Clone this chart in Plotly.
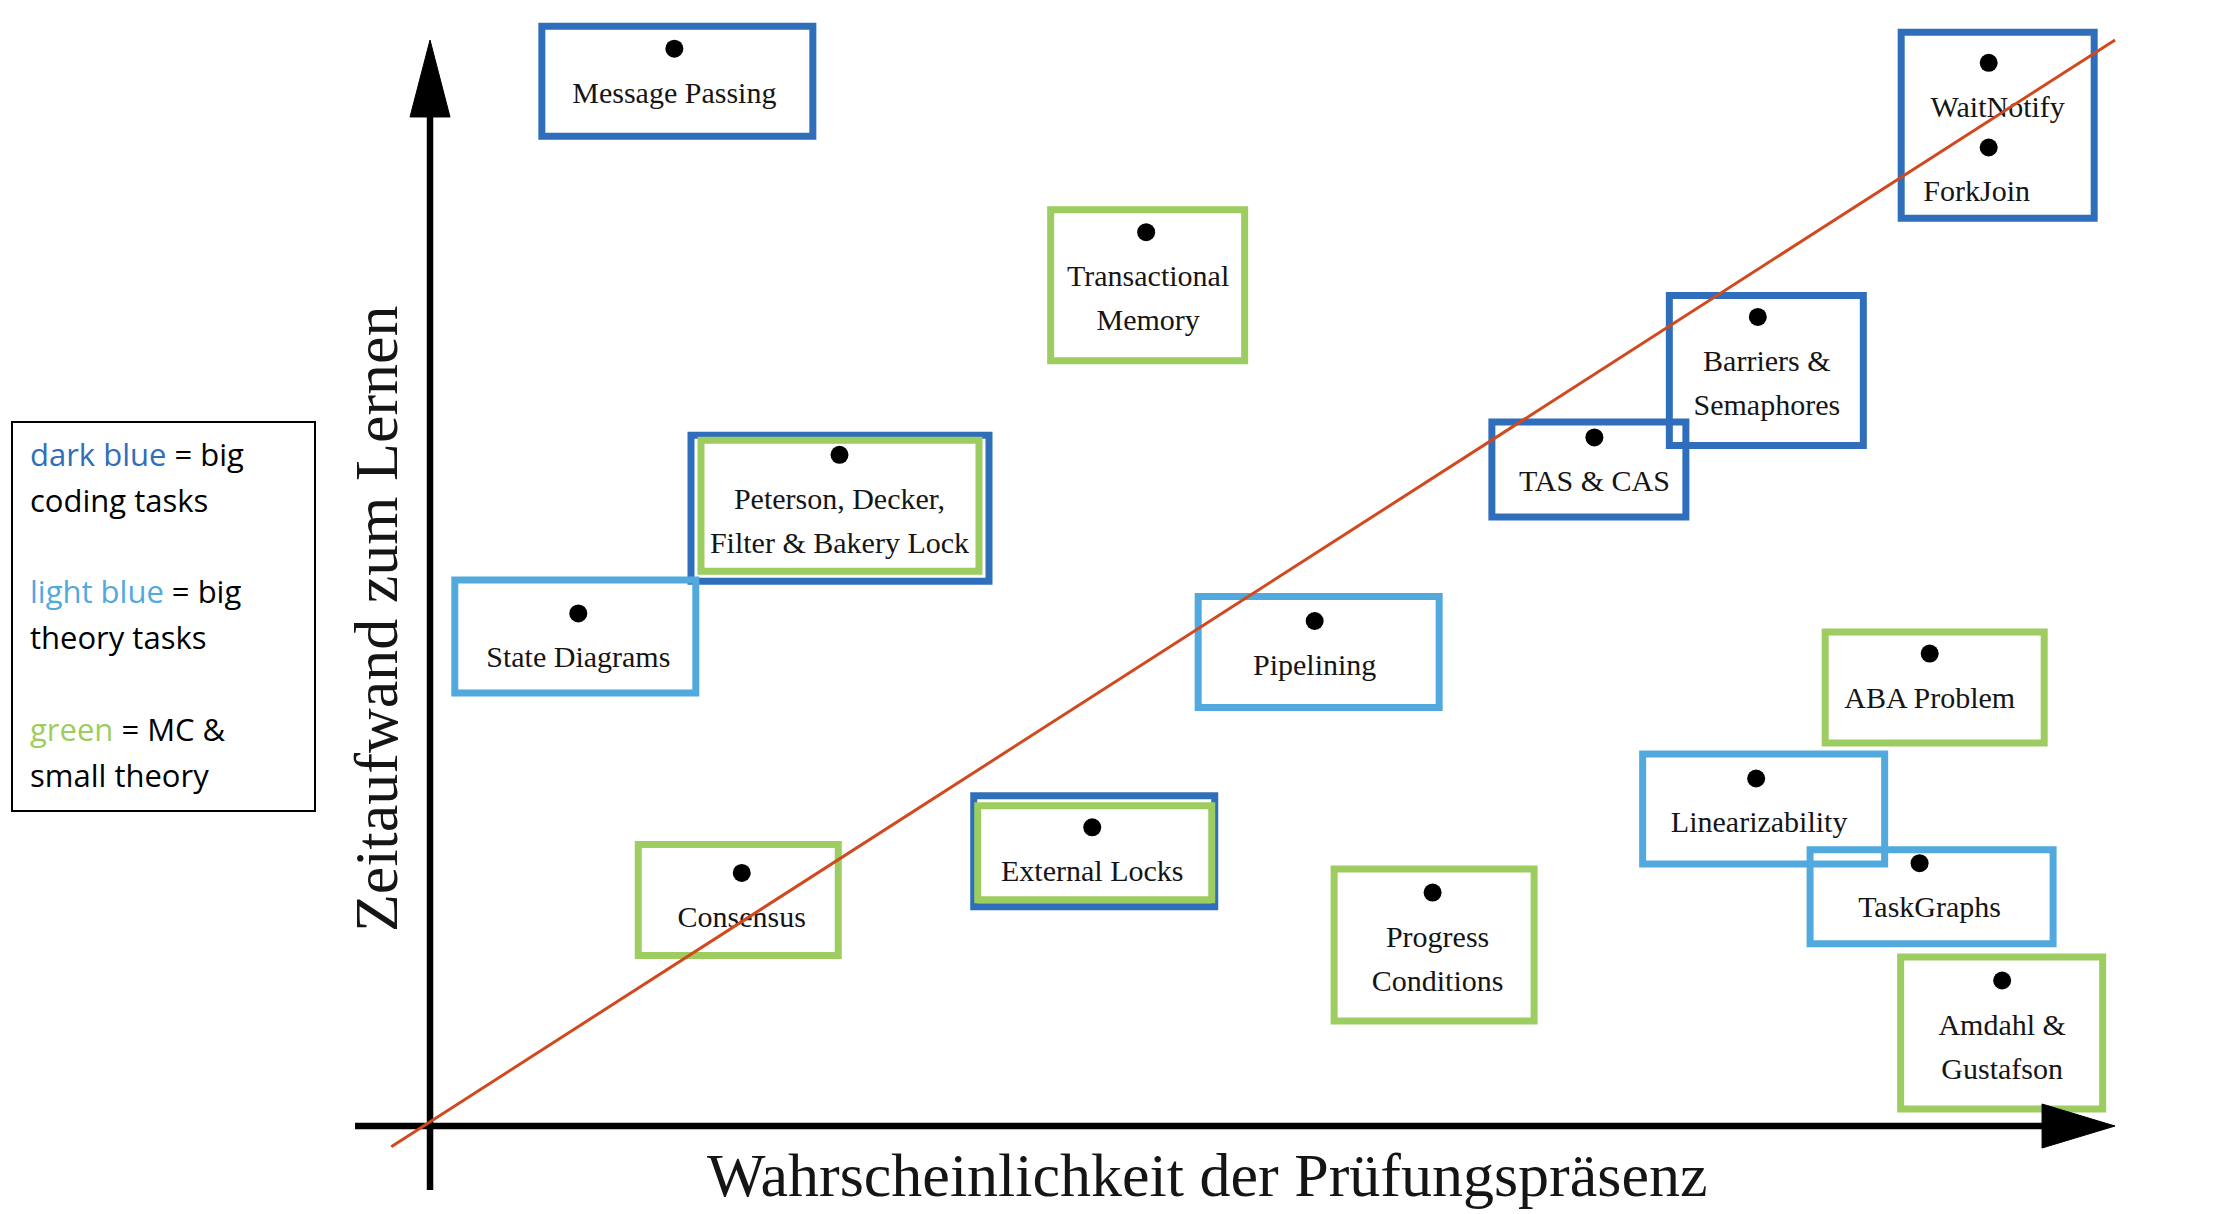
import plotly.graph_objects as go

# ---------------- data ----------------
topics = [
    "Message Passing",
    "Transactional\nMemory",
    "Peterson, Decker,\nFilter & Bakery Lock",
    "State Diagrams",
    "Pipelining",
    "External Locks",
    "Consensus",
    "Progress\nConditions",
    "TAS & CAS",
    "Barriers &\nSemaphores",
    "WaitNotify",
    "ForkJoin",
    "ABA Problem",
    "Linearizability",
    "TaskGraphs",
    "Amdahl &\nGustafson",
]
# Wahrscheinlichkeit der Prüfungspräsenz (0..10)
presence = [1.45, 4.25, 2.43, 0.88, 5.25, 3.93, 1.85, 5.95, 6.91, 7.88, 9.25, 9.25, 8.90, 7.87, 8.84, 9.33]
# Zeitaufwand zum Lernen (0..10)
effort = [9.92, 8.23, 6.18, 4.72, 4.65, 2.75, 2.33, 2.15, 6.34, 7.45, 9.79, 9.01, 4.35, 3.20, 2.42, 1.34]
# task type(s) per topic
task_types = [
    ["coding"], ["mc"], ["coding", "mc"], ["theory"], ["theory"], ["coding", "mc"],
    ["mc"], ["mc"], ["coding"], ["coding"], ["coding"], ["coding"],
    ["mc"], ["theory"], ["theory"], ["mc"],
]
trend_x = [-0.23, 10.0]
trend_y = [-0.19, 10.0]

x_title = "Wahrscheinlichkeit der Prüfungspräsenz"
y_title = "Zeitaufwand zum Lernen"

legend_lines = [
    ("dark blue", "coding", " = big"),
    ("", None, "coding tasks"),
    ("light blue", "theory", " = big"),
    ("", None, "theory tasks"),
    ("green", "mc", " = MC &"),
    ("", None, "small theory"),
]

# ---------------- style ----------------
W, H = 2232, 1214
X_RANGE = (-2.552, 10.694)
Y_RANGE = (-0.810, 10.368)
PX_X = W / (X_RANGE[1] - X_RANGE[0])
PX_Y = H / (Y_RANGE[1] - Y_RANGE[0])


def dx(px):
    return px / PX_X


def dy(px):
    return px / PX_Y


COLORS = {"coding": "#2F6EBA", "theory": "#52A9DE", "mc": "#9DCC60"}
TREND_COLOR = "#D04A1E"
TEXT_COLOR = "#151515"
SERIF = "Liberation Serif, Times New Roman, serif"
SANS = "Open Sans, Noto Sans, sans-serif"
BOX_W = 7  # border width in px

# box outline geometry around each dot, px offsets (left, right, top, bottom)
BOX_PX = [
    [(-136, 142, -26, 91)],
    [(-99, 102, -26, 132)],
    [(-152, 153, -23, 130), (-142, 143, -18, 120)],
    [(-127, 121, -37, 83)],
    [(-120, 128, -28, 90)],
    [(-122, 126, -35, 83), (-118, 123, -25, 76)],
    [(-107, 100, -32, 86)],
    [(-102, 105, -27, 132)],
    [(-106, 95, -19, 83)],
    [(-92, 109, -25, 132)],
    [(-91, 109, -34, 159)],
    [],
    [(-108, 118, -25, 93)],
    [(-117, 132, -28, 89)],
    [(-113, 137, -17, 84)],
    [(-105, 104, -27, 132)],
]
# horizontal nudges of label text (px)
TEXT_DX = [0, 2, 0, 0, 0, 0, 0, 5, 0, 9, 9, -12, 0, 3, 10, 0]
FIRST_BASELINE = 57   # px below the dot
LINE_GAP = 44         # px between label lines
CAP_SHIFT = 0.35 * 30

fig = go.Figure()
shapes = []

# boxes (drawn below traces)
for i in range(len(topics)):
    x, y = presence[i], effort[i]
    for cat, (l, r, t, b) in zip(task_types[i], BOX_PX[i]):
        shapes.append(dict(
            type="rect", xref="x", yref="y", layer="below",
            x0=x + dx(l + BOX_W / 2), x1=x + dx(r - BOX_W / 2),
            y0=y - dy(b - BOX_W / 2), y1=y - dy(t + BOX_W / 2),
            line=dict(color=COLORS[cat], width=BOX_W), fillcolor="rgba(0,0,0,0)",
        ))

# axes (arrows)
AX_W = 6.5
x_axis_from, axis_to = -0.445, 10.0
y_axis_from = -0.589
arrow_len_x, arrow_half_x = 73, 22
arrow_len_y, arrow_half_y = 77, 20
shapes.append(dict(type="line", xref="x", yref="y", layer="below",
                   x0=x_axis_from, x1=axis_to - dx(arrow_len_x) + dx(2), y0=0, y1=0,
                   line=dict(color="black", width=AX_W)))
shapes.append(dict(type="path", xref="x", yref="y", layer="below",
                   path=f"M {axis_to - dx(arrow_len_x)},{dy(arrow_half_x)} L {axis_to},0 "
                        f"L {axis_to - dx(arrow_len_x)},{-dy(arrow_half_x)} Z",
                   fillcolor="black", line=dict(color="black", width=1)))
shapes.append(dict(type="line", xref="x", yref="y", layer="below",
                   x0=0, x1=0, y0=y_axis_from, y1=axis_to - dy(arrow_len_y) + dy(2),
                   line=dict(color="black", width=AX_W)))
shapes.append(dict(type="path", xref="x", yref="y", layer="below",
                   path=f"M {-dx(arrow_half_y)},{axis_to - dy(arrow_len_y)} L 0,{axis_to} "
                        f"L {dx(arrow_half_y)},{axis_to - dy(arrow_len_y)} Z",
                   fillcolor="black", line=dict(color="black", width=1)))

# legend box
shapes.append(dict(type="rect", xref="paper", yref="paper",
                   x0=12 / W, x1=315 / W, y0=1 - 811 / H, y1=1 - 422 / H,
                   line=dict(color="black", width=2), fillcolor="white"))

# label text (one point per text line)
tx, ty, tt = [], [], []
for i, label in enumerate(topics):
    for k, line in enumerate(label.split("\n")):
        tx.append(presence[i] + dx(TEXT_DX[i]))
        ty.append(effort[i] - dy(FIRST_BASELINE + LINE_GAP * k - CAP_SHIFT))
        tt.append(line)

fig.add_trace(go.Scatter(
    x=tx, y=ty, text=tt, mode="text", textposition="middle center",
    textfont=dict(family=SERIF, size=30, color=TEXT_COLOR), hoverinfo="skip",
))
fig.add_trace(go.Scatter(
    x=presence, y=effort, mode="markers",
    marker=dict(size=18, color="black"), hovertext=[t.replace("\n", " ") for t in topics],
    hoverinfo="text",
))
fig.add_trace(go.Scatter(
    x=trend_x, y=trend_y, mode="lines",
    line=dict(color=TREND_COLOR, width=3), hoverinfo="skip",
))

annotations = []
# legend text
legend_baselines = [466, 512, 603, 649, 741, 787]
for (colored, cat, rest), base in zip(legend_lines, legend_baselines):
    txt = (f'<span style="color:{COLORS[cat]}">{colored}</span>' if cat else "") + rest
    annotations.append(dict(
        xref="paper", yref="paper", x=28 / W, y=1 - (base - 12) / H,
        xanchor="left", yanchor="middle", showarrow=False, text=txt,
        font=dict(family=SANS, size=31, color="black"),
    ))
# axis titles
annotations.append(dict(
    xref="paper", yref="paper", x=1207 / W, y=1 - 1175 / H, xanchor="center", yanchor="middle",
    showarrow=False, text=x_title, font=dict(family=SERIF, size=62, color=TEXT_COLOR),
))
annotations.append(dict(
    xref="paper", yref="paper", x=376 / W, y=1 - 619 / H, xanchor="center", yanchor="middle",
    showarrow=False, text=y_title, textangle=-90, font=dict(family=SERIF, size=62, color=TEXT_COLOR),
))

fig.update_layout(
    width=W, height=H, margin=dict(l=0, r=0, t=0, b=0, pad=0),
    paper_bgcolor="white", plot_bgcolor="white", showlegend=False,
    xaxis=dict(range=list(X_RANGE), visible=False, fixedrange=True),
    yaxis=dict(range=list(Y_RANGE), visible=False, fixedrange=True),
    shapes=shapes, annotations=annotations,
)

fig.write_html(
    "out.html",
    config={"displayModeBar": False},
    post_script="document.body.style.margin='0';document.body.style.overflow='hidden';",
)
